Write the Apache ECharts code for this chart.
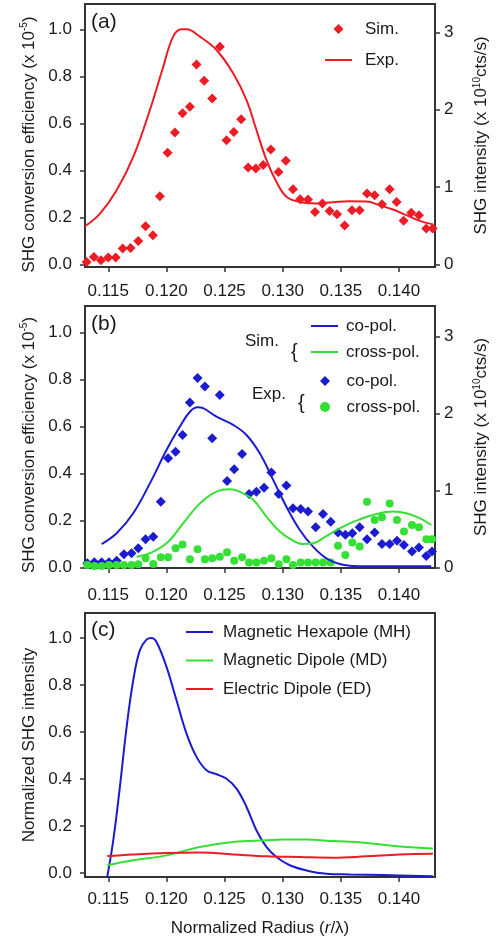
<!DOCTYPE html>
<html>
<head>
<meta charset="utf-8">
<script src="https://cdn.jsdelivr.net/npm/echarts@6/dist/echarts.min.js"></script>
<style>
  html, body { margin: 0; padding: 0; background: #fff; }
  #chart { width: 500px; height: 942px; }
</style>
</head>
<body>
<div id="chart"></div>
<script>
// Panel (a) - Sim. (diamonds) and Exp. (line)
const simA = [
  [0.11314, 0.011], [0.11377, 0.032], [0.11437, 0.018], [0.11500, 0.030], [0.11564, 0.030],
  [0.11624, 0.068], [0.11692, 0.071], [0.11758, 0.100], [0.11821, 0.163], [0.11884, 0.125],
  [0.11944, 0.291], [0.12010, 0.475], [0.12073, 0.562], [0.12139, 0.643], [0.12202, 0.671],
  [0.12259, 0.851], [0.12325, 0.781], [0.12394, 0.706], [0.12460, 0.926], [0.12517, 0.529],
  [0.12580, 0.564], [0.12643, 0.618], [0.12703, 0.413], [0.12769, 0.409], [0.12832, 0.423],
  [0.12898, 0.489], [0.12964, 0.394], [0.13027, 0.441], [0.13089, 0.320], [0.13150, 0.278],
  [0.13218, 0.277], [0.13278, 0.224], [0.13342, 0.260], [0.13404, 0.228], [0.13467, 0.214],
  [0.13533, 0.166], [0.13596, 0.231], [0.13662, 0.231], [0.13725, 0.302], [0.13791, 0.295],
  [0.13854, 0.257], [0.13920, 0.320], [0.13980, 0.266], [0.14040, 0.186], [0.14106, 0.220],
  [0.14172, 0.210], [0.14235, 0.153], [0.14290, 0.153]
];
const expA = [
  [0.1130, 0.163], [0.11429, 0.217], [0.11572, 0.316], [0.11715, 0.458], [0.11858, 0.657],
  [0.11973, 0.841], [0.12058, 0.969], [0.1213, 1.0], [0.12173, 1.0], [0.12288, 0.969],
  [0.12431, 0.912], [0.12574, 0.813], [0.12689, 0.699], [0.12775, 0.571], [0.12861, 0.444],
  [0.12947, 0.351], [0.13033, 0.288], [0.13147, 0.266], [0.1329, 0.260], [0.13433, 0.265],
  [0.13576, 0.269], [0.1372, 0.268], [0.13834, 0.252], [0.13949, 0.234], [0.14064, 0.210],
  [0.14178, 0.186], [0.14292, 0.171]
];

// Panel (b) - Sim. lines and Exp. markers
const simCoB = [
  [0.11443, 0.099], [0.11572, 0.145], [0.11715, 0.230], [0.11858, 0.357], [0.12001, 0.499],
  [0.12116, 0.599], [0.12202, 0.662], [0.12268, 0.681], [0.12316, 0.677], [0.12431, 0.641],
  [0.12574, 0.606], [0.12689, 0.563], [0.12803, 0.485], [0.12918, 0.372], [0.13032, 0.258],
  [0.13147, 0.159], [0.13261, 0.088], [0.13376, 0.038], [0.1349, 0.014], [0.13605, 0.006],
  [0.1372, 0.004], [0.14006, 0.004], [0.14278, 0.004]
];
const simCrossB = [
  [0.11743, 0.045], [0.11858, 0.060], [0.12001, 0.102], [0.12144, 0.187], [0.12288, 0.272],
  [0.12431, 0.322], [0.12545, 0.332], [0.1263, 0.322], [0.12746, 0.287], [0.1286, 0.216],
  [0.12975, 0.152], [0.13089, 0.113], [0.13175, 0.099], [0.13261, 0.102], [0.13376, 0.133],
  [0.13519, 0.173], [0.13662, 0.204], [0.13806, 0.227], [0.13949, 0.237], [0.14063, 0.230],
  [0.14178, 0.209], [0.14278, 0.180]
];
const expCoB = [
  [0.11320, 0.017], [0.11380, 0.021], [0.11443, 0.021], [0.11506, 0.021], [0.11572, 0.028],
  [0.11635, 0.055], [0.11700, 0.060], [0.11758, 0.081], [0.11821, 0.119], [0.11887, 0.130],
  [0.11952, 0.279], [0.12015, 0.464], [0.12079, 0.492], [0.12139, 0.563], [0.12202, 0.701],
  [0.12268, 0.806], [0.12331, 0.769], [0.12394, 0.549], [0.12459, 0.733], [0.12522, 0.367],
  [0.12583, 0.417], [0.12651, 0.482], [0.12711, 0.312], [0.12774, 0.322], [0.12840, 0.339],
  [0.12903, 0.403], [0.12966, 0.312], [0.13032, 0.348], [0.13089, 0.251], [0.13155, 0.248],
  [0.13218, 0.237], [0.13284, 0.170], [0.13347, 0.227], [0.13413, 0.194], [0.13476, 0.148],
  [0.13539, 0.138], [0.13599, 0.145], [0.13662, 0.170], [0.13725, 0.119], [0.13791, 0.148],
  [0.13854, 0.099], [0.13920, 0.099], [0.13983, 0.113], [0.14043, 0.095], [0.14112, 0.067],
  [0.14172, 0.084], [0.14235, 0.048], [0.14284, 0.067]
];
const expCrossB = [
  [0.11320, 0.010], [0.11380, 0.006], [0.11443, 0.006], [0.11506, 0.010], [0.11572, 0.010],
  [0.11635, 0.010], [0.11700, 0.010], [0.11758, 0.013], [0.11821, 0.038], [0.11887, 0.014],
  [0.11952, 0.043], [0.12015, 0.043], [0.12079, 0.081], [0.12139, 0.097], [0.12202, 0.034],
  [0.12268, 0.077], [0.12331, 0.034], [0.12394, 0.038], [0.12459, 0.045], [0.12522, 0.064],
  [0.12583, 0.028], [0.12651, 0.043], [0.12711, 0.020], [0.12774, 0.020], [0.12840, 0.028],
  [0.12903, 0.038], [0.12966, 0.013], [0.13032, 0.034], [0.13089, 0.010], [0.13155, 0.020],
  [0.13218, 0.020], [0.13284, 0.020], [0.13347, 0.020], [0.13413, 0.020], [0.13476, 0.092],
  [0.13539, 0.052], [0.13599, 0.105], [0.13662, 0.088], [0.13725, 0.279], [0.13791, 0.201],
  [0.13854, 0.213], [0.13920, 0.272], [0.13983, 0.201], [0.14043, 0.152], [0.14112, 0.180],
  [0.14172, 0.170], [0.14235, 0.119], [0.14284, 0.119]
];

// Panel (c) - multipole contributions
const mhC = [
  [0.11491, -0.017], [0.11543, 0.139], [0.1160, 0.366], [0.11658, 0.621], [0.11715, 0.820],
  [0.11772, 0.948], [0.11829, 0.993], [0.11872, 1.0], [0.11915, 0.983], [0.12001, 0.877],
  [0.12087, 0.735], [0.12173, 0.593], [0.12259, 0.494], [0.12345, 0.437], [0.12431, 0.420],
  [0.12517, 0.401], [0.12603, 0.359], [0.12689, 0.281], [0.12774, 0.182], [0.1286, 0.111],
  [0.12946, 0.068], [0.13061, 0.033], [0.13204, 0.011], [0.13376, -0.003], [0.13576, -0.006],
  [0.13862, -0.009], [0.14292, -0.014]
];
const mdC = [
  [0.11491, 0.033], [0.11715, 0.054], [0.12001, 0.075], [0.12288, 0.111], [0.12574, 0.132],
  [0.1286, 0.139], [0.13003, 0.142], [0.13204, 0.142], [0.13433, 0.136], [0.13719, 0.128],
  [0.14006, 0.113], [0.14292, 0.104]
];
const edC = [
  [0.11491, 0.072], [0.11715, 0.079], [0.12001, 0.085], [0.12288, 0.087], [0.12574, 0.079],
  [0.1286, 0.071], [0.13147, 0.068], [0.13433, 0.065], [0.13719, 0.071], [0.14006, 0.079],
  [0.14292, 0.082]
];

// Ticks
const xTicks = [0.115, 0.120, 0.125, 0.130, 0.135, 0.140];
const yTicks = [0, 0.2, 0.4, 0.6, 0.8, 1.0];
const rightTicks = [0, 1, 2, 3];

const RED = '#ec1c24';
const BLUE = '#1b1bd0';
const GREEN = '#35e035';
const FONT = '"Liberation Sans", Arial, sans-serif';
const INK = '#1a1a1a';
const AXIS = '#333';

// legend icons (path icons keep their aspect ratio)
const LINE_ICON = 'path://M0,0H27V2H0Z';
const DIAMOND_ICON = 'path://M5,0L10,5L5,10L0,5Z';
const DOT_ICON = 'path://M4.5,0A4.5,4.5,0,1,1,4.5,9A4.5,4.5,0,1,1,4.5,0Z';

const supRich = {
  sup: { fontSize: 10, fontFamily: FONT, color: INK, padding: [0, 0, 9, 0] },
  it: { fontSize: 17, fontFamily: FONT, color: INK, fontStyle: 'italic' }
};

function makeX(grid, margin, withName) {
  const ax = {
    type: 'value',
    gridIndex: grid,
    min: 0.113,
    max: 0.1431,
    axisLine: { show: true, onZero: false, lineStyle: { color: AXIS, width: 2 } },
    axisTick: { show: true, length: 5, customValues: xTicks, lineStyle: { color: AXIS, width: 1.5 } },
    axisLabel: {
      customValues: xTicks, margin: margin, fontSize: 17, fontFamily: FONT, color: INK,
      formatter: v => v.toFixed(3)
    },
    splitLine: { show: false }
  };
  if (withName) {
    ax.name = 'Normalized Radius ({it|r}/λ)';
    ax.nameLocation = 'middle';
    ax.nameGap = 43;
    ax.nameTextStyle = { fontSize: 17, fontFamily: FONT, color: INK, rich: supRich };
  }
  return ax;
}

function makeYLeft(grid, min, max, name, pad) {
  return {
    type: 'value',
    gridIndex: grid,
    position: 'left',
    min: min,
    max: max,
    name: name,
    nameLocation: 'middle',
    nameGap: 46,
    nameTextStyle: { fontSize: 17, fontFamily: FONT, color: INK, rich: supRich, padding: pad },
    axisLine: { show: true, onZero: false, lineStyle: { color: AXIS, width: 2 } },
    axisTick: { show: true, length: 5, customValues: yTicks, lineStyle: { color: AXIS, width: 1.5 } },
    axisLabel: {
      customValues: yTicks, margin: 13, fontSize: 17, fontFamily: FONT, color: INK,
      formatter: v => v.toFixed(1)
    },
    splitLine: { show: false }
  };
}

function makeYRight(grid, min, max) {
  return {
    type: 'value',
    gridIndex: grid,
    position: 'right',
    min: min,
    max: max,
    name: 'SHG intensity (x 10{sup|10}cts/s)',
    nameLocation: 'middle',
    nameGap: 37,
    nameTextStyle: { fontSize: 17, fontFamily: FONT, color: INK, rich: supRich },
    axisLine: { show: true, onZero: false, lineStyle: { color: AXIS, width: 2 } },
    axisTick: { show: true, length: 5, customValues: rightTicks, lineStyle: { color: AXIS, width: 1.5 } },
    axisLabel: {
      customValues: rightTicks, margin: 9, fontSize: 17, fontFamily: FONT, color: INK,
      formatter: v => String(Math.round(v))
    },
    splitLine: { show: false }
  };
}

const lineSeries = (name, data, color, xi, yi) => ({
  name: name, type: 'line', xAxisIndex: xi, yAxisIndex: yi, data: data,
  smooth: 0.4, symbol: 'none', clip: true,
  lineStyle: { color: color, width: 2 }, itemStyle: { color: color }
});
const dotSeries = (name, data, color, symbol, size, xi, yi) => ({
  name: name, type: 'scatter', xAxisIndex: xi, yAxisIndex: yi, data: data,
  symbol: symbol, symbolSize: size, itemStyle: { color: color, opacity: 1 }
});

const legendText = pad => ({ fontSize: 17, fontFamily: FONT, color: INK, lineHeight: 20, padding: [0, 0, 0, pad] });
const stripName = name => name.replace(/^(Sim\.|Exp\.) /, '');

const option = {
  backgroundColor: '#fff',
  animation: false,
  grid: [
    { left: 85, width: 350, top: 4, height: 263, show: true, borderColor: AXIS, borderWidth: 2 },
    { left: 85, width: 350, top: 306, height: 262, show: true, borderColor: AXIS, borderWidth: 2 },
    { left: 85, width: 350, top: 613, height: 264, show: true, borderColor: AXIS, borderWidth: 2 }
  ],
  xAxis: [makeX(0, 16, false), makeX(1, 19, false), makeX(2, 14, true)],
  yAxis: [
    makeYLeft(0, -0.0102, 1.1077, 'SHG conversion efficiency (x 10{sup|-5})', [0, 18, 0, 0]),
    makeYRight(0, -0.031, 3.366),
    makeYLeft(1, -0.003, 1.112, 'SHG conversion efficiency (x 10{sup|-5})', [0, 16, 0, 0]),
    makeYRight(1, -0.009, 3.40),
    makeYLeft(2, -0.017, 1.106, 'Normalized SHG intensity', 0)
  ],
  legend: [
    { data: [{ name: 'Sim.', icon: DIAMOND_ICON }, { name: 'Exp.', icon: LINE_ICON }],
      orient: 'vertical', left: 325, top: 19, padding: 0,
      itemWidth: 27, itemHeight: 10, itemGap: 11, textStyle: legendText(8) },
    { data: [{ name: 'Sim. co-pol.', icon: LINE_ICON }, { name: 'Sim. cross-pol.', icon: LINE_ICON }],
      orient: 'vertical', left: 311, top: 316, padding: 0,
      itemWidth: 27, itemHeight: 10, itemGap: 6, textStyle: legendText(3), formatter: stripName },
    { data: [{ name: 'Exp. co-pol.', icon: DIAMOND_ICON }, { name: 'Exp. cross-pol.', icon: DOT_ICON }],
      orient: 'vertical', left: 320, top: 371, padding: 0,
      itemWidth: 27, itemHeight: 10, itemGap: 6, textStyle: legendText(3), formatter: stripName },
    { data: [
        { name: 'Magnetic Hexapole (MH)', icon: LINE_ICON },
        { name: 'Magnetic Dipole (MD)', icon: LINE_ICON },
        { name: 'Electric Dipole (ED)', icon: LINE_ICON }
      ],
      orient: 'vertical', left: 186, top: 622, padding: 0,
      itemWidth: 27, itemHeight: 10, itemGap: 8.5, textStyle: legendText(5) }
  ],
  graphic: [
    { type: 'text', left: 91, top: 12, style: { text: '(a)', fontSize: 21, fontFamily: FONT, fill: INK } },
    { type: 'text', left: 91, top: 314, style: { text: '(b)', fontSize: 21, fontFamily: FONT, fill: INK } },
    { type: 'text', left: 91, top: 620, style: { text: '(c)', fontSize: 21, fontFamily: FONT, fill: INK } },
    { type: 'text', left: 245, top: 333, style: { text: 'Sim.', fontSize: 17, fontFamily: FONT, fill: INK } },
    { type: 'text', left: 291, top: 342, style: { text: '{', fontSize: 20, fontFamily: FONT, fill: INK } },
    { type: 'text', left: 252, top: 386, style: { text: 'Exp.', fontSize: 17, fontFamily: FONT, fill: INK } },
    { type: 'text', left: 298, top: 393, style: { text: '{', fontSize: 20, fontFamily: FONT, fill: INK } }
  ],
  series: [
    lineSeries('Exp.', expA, RED, 0, 0),
    dotSeries('Sim.', simA, RED, 'diamond', 10, 0, 0),
    lineSeries('Sim. co-pol.', simCoB, BLUE, 1, 2),
    lineSeries('Sim. cross-pol.', simCrossB, GREEN, 1, 2),
    dotSeries('Exp. co-pol.', expCoB, BLUE, 'diamond', 10, 1, 2),
    dotSeries('Exp. cross-pol.', expCrossB, GREEN, 'circle', 8, 1, 2),
    lineSeries('Magnetic Hexapole (MH)', mhC, BLUE, 2, 4),
    lineSeries('Magnetic Dipole (MD)', mdC, GREEN, 2, 4),
    lineSeries('Electric Dipole (ED)', edC, RED, 2, 4)
  ]
};

const chart = echarts.init(document.getElementById('chart'));
chart.setOption(option);
</script>
</body>
</html>
